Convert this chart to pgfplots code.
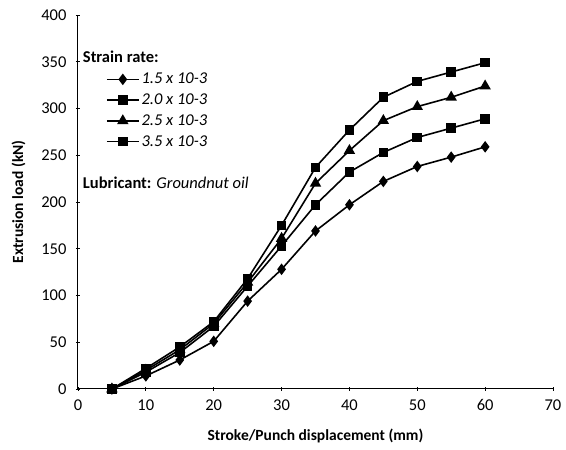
\documentclass[border=0pt]{standalone}
\usepackage{fontspec}
\setmainfont{Carlito}
\usepackage{pgfplots}
\pgfplotsset{compat=1.18}
\begin{document}
\begin{tikzpicture}
\begin{axis}[
  name=ax,
  scale only axis,
  width=475pt, height=374pt,
  xmin=0, xmax=70, ymin=0, ymax=400,
  xtick={0,10,...,70}, ytick={0,50,...,400},
  axis lines=left,
  axis line style={line width=1pt,-},
  tick style={black,line width=0.8pt},
  major tick length=4pt,
  tick align=center,
  ticklabel style={font=\fontsize{16.5}{18}\selectfont},
  xticklabel style={yshift=-5pt},
  yticklabel style={xshift=-6pt},
  /pgf/number format/assume math mode=true,
  xlabel={Stroke/Punch displacement (mm)},
  ylabel={Extrusion load (kN)},
  label style={font=\fontsize{15.5}{18}\selectfont\bfseries},
  xlabel style={yshift=-11pt},
  ylabel style={yshift=9pt},
  every axis plot/.append style={black, line width=1.6pt},
  legend style={draw=none, fill=none, at={(axis cs:4.1,340)}, anchor=north west,
    font=\fontsize{16.5}{19}\selectfont\itshape, row sep=4.5pt, inner sep=0pt},
  legend cell align=left,
  legend image code/.code={\draw[mark repeat=2,mark phase=2,#1] plot coordinates {(0pt,0pt) (16pt,0pt) (32pt,0pt)};},
]
\addplot[mark=diamond*, mark size=4.5pt] coordinates {(5,0) (10,14) (15,31) (20,51) (25,94) (30,128) (35,169) (40,197) (45,222) (50,238) (55,248) (60,259)};
\addlegendentry{1.5 x 10-3}
\addplot[mark=square*, mark size=4pt] coordinates {(5,0) (10,18) (15,39) (20,67) (25,110) (30,153) (35,197) (40,232) (45,253) (50,269) (55,279) (60,289)};
\addlegendentry{2.0 x 10-3}
\addplot[mark=triangle*, mark size=5pt] coordinates {(5,0) (10,20) (15,42) (20,70) (25,114) (30,161) (35,220) (40,255) (45,287) (50,302) (55,312) (60,324)};
\addlegendentry{2.5 x 10-3}
\addplot[mark=square*, mark size=4pt] coordinates {(5,0) (10,22) (15,45) (20,72) (25,118) (30,175) (35,237) (40,277) (45,312) (50,329) (55,339) (60,349)};
\addlegendentry{3.5 x 10-3}
\node[anchor=west, font=\fontsize{16.5}{18}\selectfont\bfseries, inner sep=0pt] at (axis cs:0.7,355) {Strain rate:};
\node[anchor=west, font=\fontsize{16.5}{18}\selectfont, inner sep=0pt] at (axis cs:0.7,221) {\textbf{Lubricant:} \textit{Groundnut oil}};
\end{axis}
\path[use as bounding box] ([shift={(-78pt,-61pt)}]ax.south west) rectangle ++(566pt,450pt);
\end{tikzpicture}
\end{document}
